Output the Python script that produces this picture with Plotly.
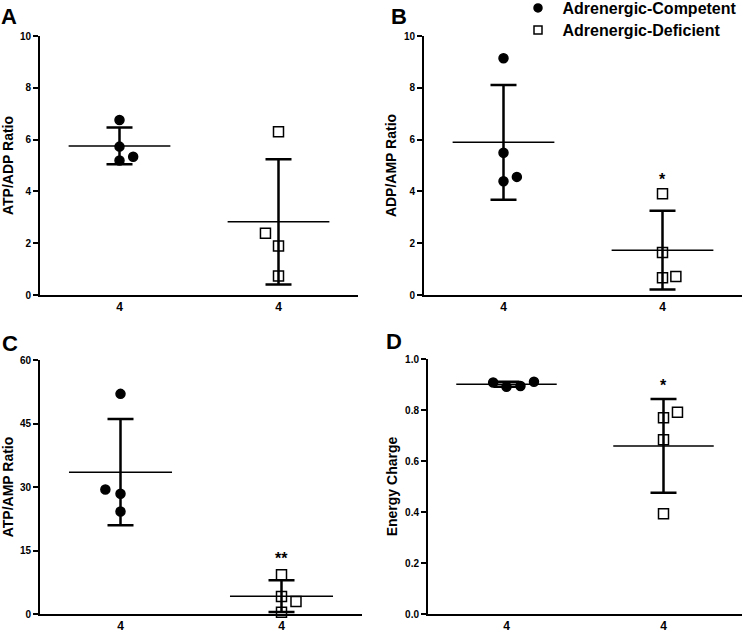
import numpy as np
import plotly.graph_objects as go

# ---------------- data ----------------
groups = ["Adrenergic-Competent", "Adrenergic-Deficient"]
n_labels = ["4", "4"]
panel_letters = ["A", "B", "C", "D"]
y_titles = ["ATP/ADP Ratio", "ADP/AMP Ratio", "ATP/AMP Ratio", "Energy Charge"]

atp_adp_competent = [6.76, 5.73, 5.34, 5.19]
atp_adp_deficient = [6.30, 2.38, 1.89, 0.73]
adp_amp_competent = [9.14, 5.49, 4.56, 4.39]
adp_amp_deficient = [3.91, 1.64, 0.71, 0.67]
atp_amp_competent = [52.0, 29.4, 28.4, 24.2]
atp_amp_deficient = [9.3, 4.16, 2.98, 0.40]
energy_competent = [0.908, 0.891, 0.894, 0.911]
energy_deficient = [0.791, 0.770, 0.683, 0.393]

# significance marks on the deficient group (panel index -> label, y)
sig_labels = {1: ("*", 4.45), 2: ("**", 13.2), 3: ("*", 0.895)}

# y axis settings per panel
y_ranges = [[0, 10], [0, 10], [0, 60], [0, 1.0]]
y_dticks = [2, 2, 15, 0.2]
y_formats = ["d", "d", "d", ".1f"]

# horizontal spread of overlapping dots (style, in category units)
spread_competent = [[0, 0, 0.086, 0], [0, 0, 0.084, 0], [0, -0.094, 0, 0], [-0.085, 0, 0.089, 0.175]]
spread_deficient = [[0, -0.082, 0, 0], [0, 0, 0.084, 0], [0, 0, 0.09, 0], [0.089, 0, 0, 0]]

panels = [
    (atp_adp_competent, atp_adp_deficient),
    (adp_amp_competent, adp_amp_deficient),
    (atp_amp_competent, atp_amp_deficient),
    (energy_competent, energy_deficient),
]

# ---------------- layout geometry (pixels) ----------------
W, H = 745, 632
px_x = [(40, 358), (424, 742), (40, 362), (428, 742)]
px_y = [(36, 295), (36, 295), (360, 614), (359, 614)]
letter_pos = [(9, 16), (399, 16), (10, 343), (394, 341)]
legend_rows = [7, 29]      # pixel centres of the key rows
legend_symbol_x = 538

FONT = "Liberation Sans, Arial, sans-serif"
BLACK = "#000000"

fig = go.Figure()

for i, (comp, defi) in enumerate(panels):
    xa = "x" if i == 0 else f"x{i+1}"
    ya = "y" if i == 0 else f"y{i+1}"
    for g, (vals, spread) in enumerate([(comp, spread_competent[i]), (defi, spread_deficient[i])]):
        cx = g + 1
        mean = float(np.mean(vals))
        sd = float(np.std(vals, ddof=1))
        # mean line
        fig.add_trace(go.Scatter(
            x=[cx - 0.32, cx + 0.32], y=[mean, mean], mode="lines",
            line=dict(color=BLACK, width=1.5), xaxis=xa, yaxis=ya,
            showlegend=False, hoverinfo="skip"))
        # SD error bar
        fig.add_trace(go.Scatter(
            x=[cx], y=[mean], mode="markers",
            marker=dict(size=1, color="rgba(0,0,0,0)"),
            error_y=dict(type="data", array=[sd], visible=True,
                         color=BLACK, thickness=2.5, width=13),
            xaxis=xa, yaxis=ya, showlegend=False, hoverinfo="skip"))
        # points
        fig.add_trace(go.Scatter(
            x=[cx + s for s in spread], y=vals, mode="markers",
            marker=dict(symbol="circle" if g == 0 else "square-open",
                        size=9 if g == 0 else 10, color=BLACK,
                        line=dict(color=BLACK, width=1.5)),
            cliponaxis=False, xaxis=xa, yaxis=ya,
            name=groups[g], legendgroup=groups[g], showlegend=False))

    x0, x1 = px_x[i]
    yt, yb = px_y[i]
    xaxis = dict(domain=[x0 / W, x1 / W], range=[0.5, 2.5], anchor=ya,
                 tickvals=[1, 2], ticktext=n_labels, ticks="",
                 showline=True, linecolor=BLACK, linewidth=2, showgrid=False,
                 zeroline=False, tickfont=dict(family=FONT, size=12, color=BLACK, weight="bold"),
                 fixedrange=True)
    yaxis = dict(domain=[1 - yb / H, 1 - yt / H], range=y_ranges[i], anchor=xa,
                 dtick=y_dticks[i], tick0=0, tickformat=y_formats[i],
                 ticks="outside", ticklen=5, tickwidth=2, tickcolor=BLACK,
                 showline=True, linecolor=BLACK, linewidth=2, showgrid=False,
                 zeroline=False, tickfont=dict(family=FONT, size=10, color=BLACK, weight="bold"),
                 title=dict(text=y_titles[i], standoff=4,
                            font=dict(family=FONT, size=14, color=BLACK, weight="bold")),
                 fixedrange=True)
    fig.layout["xaxis" if i == 0 else f"xaxis{i+1}"] = xaxis
    fig.layout["yaxis" if i == 0 else f"yaxis{i+1}"] = yaxis

    lx, ly = letter_pos[i]
    fig.add_annotation(text=panel_letters[i], x=lx / W, y=1 - ly / H, xref="paper", yref="paper",
                       xanchor="center", yanchor="middle", showarrow=False,
                       font=dict(family=FONT, size=22, color=BLACK, weight="bold"))

    if i in sig_labels:
        lab, yv = sig_labels[i]
        fig.add_annotation(text=lab, x=2, y=yv, xref=xa, yref=ya, xanchor="center",
                           yanchor="middle", showarrow=False,
                           font=dict(family=FONT, size=16, color=BLACK, weight="bold"))

# legend-only entries (smaller symbols, as in the reference key), one legend per row
legend_names = ["legend", "legend2"]
for g, sym in enumerate(["circle", "square-open"]):
    fig.add_trace(go.Scatter(
        x=[None], y=[None], mode="markers", name=groups[g], legendgroup=groups[g],
        legend=legend_names[g],
        marker=dict(symbol=sym, size=8, color=BLACK, line=dict(color=BLACK, width=1.5)),
        xaxis="x2", yaxis="y2", showlegend=True))

legend_common = dict(xanchor="left", yanchor="top",
                     font=dict(family=FONT, size=16, color=BLACK, weight="bold"),
                     bgcolor="rgba(0,0,0,0)", borderwidth=0, itemwidth=39,
                     itemsizing="trace")
fig.update_layout(
    width=W, height=H, margin=dict(l=0, r=0, t=0, b=0, autoexpand=False),
    paper_bgcolor="white", plot_bgcolor="white",
    font=dict(family=FONT, color=BLACK),
    legend=dict(x=(legend_symbol_x - 24.5) / W, y=1 - (legend_rows[0] - 16) / H, **legend_common),
    legend2=dict(x=(legend_symbol_x - 24.5) / W, y=1 - (legend_rows[1] - 16) / H, **legend_common),
    showlegend=True,
)

fig.write_html("out.html",
               config={"displayModeBar": False},
               post_script="document.body.style.margin='0';document.body.style.padding='0';")
